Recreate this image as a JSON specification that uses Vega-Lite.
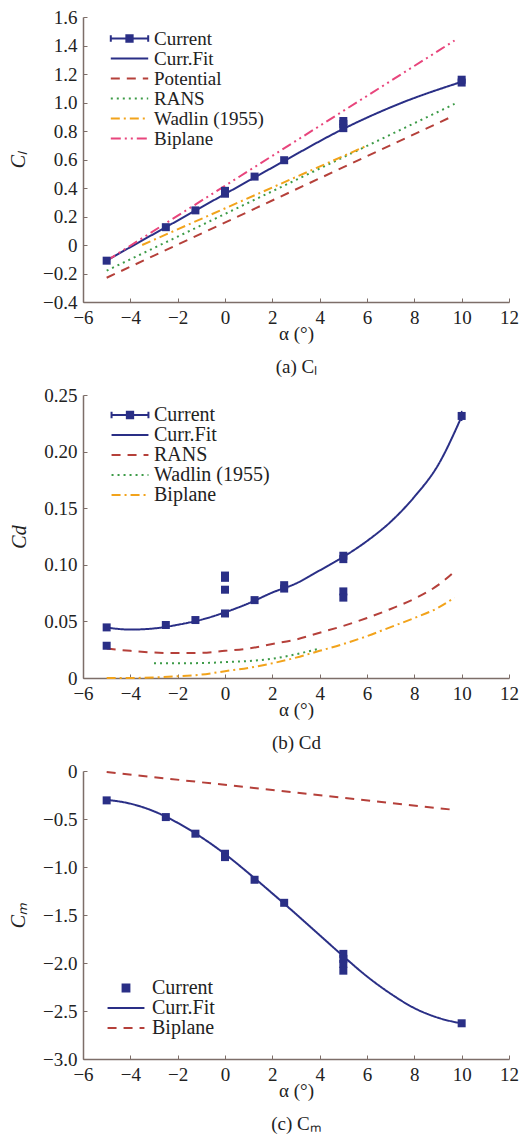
{
  "$schema": "https://vega.github.io/schema/vega-lite/v6.json",
  "background": "white",
  "padding": {"left": 8, "top": 8, "right": 8, "bottom": 2},
  "spacing": 10,
  "datasets": {
    "cl_lines": [
      {"series": "Curr.Fit", "alpha": -5, "value": -0.11},
      {"series": "Curr.Fit", "alpha": -4, "value": -0.015},
      {"series": "Curr.Fit", "alpha": -2.5, "value": 0.125},
      {"series": "Curr.Fit", "alpha": -1.25, "value": 0.242},
      {"series": "Curr.Fit", "alpha": 0, "value": 0.358},
      {"series": "Curr.Fit", "alpha": 1.25, "value": 0.474},
      {"series": "Curr.Fit", "alpha": 2.5, "value": 0.59},
      {"series": "Curr.Fit", "alpha": 5, "value": 0.815},
      {"series": "Curr.Fit", "alpha": 7.5, "value": 1.0},
      {"series": "Curr.Fit", "alpha": 10, "value": 1.145},
      {"series": "Potential", "alpha": -5, "value": -0.23},
      {"series": "Potential", "alpha": 9.7, "value": 0.91},
      {"series": "RANS", "alpha": -5, "value": -0.18},
      {"series": "RANS", "alpha": 9.7, "value": 0.99},
      {"series": "Wadlin (1955)", "alpha": -3.5, "value": 0.0},
      {"series": "Wadlin (1955)", "alpha": 5.9, "value": 0.69},
      {"series": "Biplane", "alpha": -5, "value": -0.11},
      {"series": "Biplane", "alpha": 9.7, "value": 1.435}
    ],
    "cl_pts": [
      {"alpha": -5, "value": -0.11},
      {"alpha": -2.5, "value": 0.125},
      {"alpha": -1.25, "value": 0.243},
      {"alpha": 0, "value": 0.36},
      {"alpha": 0, "value": 0.38},
      {"alpha": 1.25, "value": 0.48},
      {"alpha": 2.5, "value": 0.595},
      {"alpha": 5, "value": 0.82},
      {"alpha": 5, "value": 0.85},
      {"alpha": 5, "value": 0.87},
      {"alpha": 10, "value": 1.14},
      {"alpha": 10, "value": 1.16}
    ],
    "cd_lines": [
      {"series": "Curr.Fit", "alpha": -5, "value": 0.0445},
      {"series": "Curr.Fit", "alpha": -4, "value": 0.0428},
      {"series": "Curr.Fit", "alpha": -3, "value": 0.0438},
      {"series": "Curr.Fit", "alpha": -2, "value": 0.047},
      {"series": "Curr.Fit", "alpha": -1, "value": 0.0515},
      {"series": "Curr.Fit", "alpha": 0, "value": 0.058},
      {"series": "Curr.Fit", "alpha": 1, "value": 0.066},
      {"series": "Curr.Fit", "alpha": 2, "value": 0.0755},
      {"series": "Curr.Fit", "alpha": 3, "value": 0.0835},
      {"series": "Curr.Fit", "alpha": 4, "value": 0.095},
      {"series": "Curr.Fit", "alpha": 5, "value": 0.107},
      {"series": "Curr.Fit", "alpha": 6, "value": 0.121},
      {"series": "Curr.Fit", "alpha": 7, "value": 0.138},
      {"series": "Curr.Fit", "alpha": 8, "value": 0.16},
      {"series": "Curr.Fit", "alpha": 9, "value": 0.188},
      {"series": "Curr.Fit", "alpha": 10, "value": 0.231},
      {"series": "RANS", "alpha": -5, "value": 0.026},
      {"series": "RANS", "alpha": -4, "value": 0.024},
      {"series": "RANS", "alpha": -3, "value": 0.0225},
      {"series": "RANS", "alpha": -2, "value": 0.022},
      {"series": "RANS", "alpha": -1, "value": 0.0222},
      {"series": "RANS", "alpha": 0, "value": 0.024},
      {"series": "RANS", "alpha": 1, "value": 0.026},
      {"series": "RANS", "alpha": 2, "value": 0.03},
      {"series": "RANS", "alpha": 3, "value": 0.034},
      {"series": "RANS", "alpha": 4, "value": 0.04},
      {"series": "RANS", "alpha": 5, "value": 0.046},
      {"series": "RANS", "alpha": 6, "value": 0.053},
      {"series": "RANS", "alpha": 7, "value": 0.061},
      {"series": "RANS", "alpha": 8, "value": 0.07},
      {"series": "RANS", "alpha": 9, "value": 0.082},
      {"series": "RANS", "alpha": 9.8, "value": 0.096},
      {"series": "Wadlin (1955)", "alpha": -3, "value": 0.013},
      {"series": "Wadlin (1955)", "alpha": -2, "value": 0.013},
      {"series": "Wadlin (1955)", "alpha": -1, "value": 0.0132},
      {"series": "Wadlin (1955)", "alpha": 0, "value": 0.014},
      {"series": "Wadlin (1955)", "alpha": 1, "value": 0.015},
      {"series": "Wadlin (1955)", "alpha": 2, "value": 0.017},
      {"series": "Wadlin (1955)", "alpha": 3, "value": 0.021},
      {"series": "Wadlin (1955)", "alpha": 4, "value": 0.026},
      {"series": "Biplane", "alpha": -5, "value": 0.0},
      {"series": "Biplane", "alpha": -4, "value": 0.0},
      {"series": "Biplane", "alpha": -3, "value": 0.0005},
      {"series": "Biplane", "alpha": -2, "value": 0.0015},
      {"series": "Biplane", "alpha": -1, "value": 0.003},
      {"series": "Biplane", "alpha": 0, "value": 0.006},
      {"series": "Biplane", "alpha": 1, "value": 0.009},
      {"series": "Biplane", "alpha": 2, "value": 0.013},
      {"series": "Biplane", "alpha": 3, "value": 0.018},
      {"series": "Biplane", "alpha": 4, "value": 0.024},
      {"series": "Biplane", "alpha": 5, "value": 0.03},
      {"series": "Biplane", "alpha": 6, "value": 0.037},
      {"series": "Biplane", "alpha": 7, "value": 0.045},
      {"series": "Biplane", "alpha": 8, "value": 0.053},
      {"series": "Biplane", "alpha": 9, "value": 0.062},
      {"series": "Biplane", "alpha": 9.7, "value": 0.071}
    ],
    "cd_pts": [
      {"alpha": -5, "value": 0.0447},
      {"alpha": -5, "value": 0.0285},
      {"alpha": -2.5, "value": 0.0468},
      {"alpha": -1.25, "value": 0.0512},
      {"alpha": 0, "value": 0.057},
      {"alpha": 0, "value": 0.078},
      {"alpha": 0, "value": 0.0885},
      {"alpha": 0, "value": 0.0905},
      {"alpha": 1.25, "value": 0.0688},
      {"alpha": 2.5, "value": 0.079},
      {"alpha": 2.5, "value": 0.082},
      {"alpha": 5, "value": 0.105},
      {"alpha": 5, "value": 0.108},
      {"alpha": 5, "value": 0.0765},
      {"alpha": 5, "value": 0.071},
      {"alpha": 10, "value": 0.2315, "lo": 0.227, "hi": 0.236}
    ],
    "cm_lines": [
      {"series": "Curr.Fit", "alpha": -5, "value": -0.3},
      {"series": "Curr.Fit", "alpha": -4, "value": -0.34},
      {"series": "Curr.Fit", "alpha": -3, "value": -0.42},
      {"series": "Curr.Fit", "alpha": -2, "value": -0.54},
      {"series": "Curr.Fit", "alpha": -1, "value": -0.69},
      {"series": "Curr.Fit", "alpha": 0, "value": -0.865},
      {"series": "Curr.Fit", "alpha": 1, "value": -1.065},
      {"series": "Curr.Fit", "alpha": 2, "value": -1.275},
      {"series": "Curr.Fit", "alpha": 3, "value": -1.49},
      {"series": "Curr.Fit", "alpha": 4, "value": -1.71},
      {"series": "Curr.Fit", "alpha": 5, "value": -1.93},
      {"series": "Curr.Fit", "alpha": 6, "value": -2.14},
      {"series": "Curr.Fit", "alpha": 7, "value": -2.32},
      {"series": "Curr.Fit", "alpha": 8, "value": -2.47},
      {"series": "Curr.Fit", "alpha": 9, "value": -2.57},
      {"series": "Curr.Fit", "alpha": 10, "value": -2.63},
      {"series": "Biplane", "alpha": -5, "value": -0.01},
      {"series": "Biplane", "alpha": 9.5, "value": -0.4}
    ],
    "cm_pts": [
      {"alpha": -5, "value": -0.306},
      {"alpha": -2.5, "value": -0.48},
      {"alpha": -1.25, "value": -0.653},
      {"alpha": 0, "value": -0.862},
      {"alpha": 0, "value": -0.897},
      {"alpha": 1.25, "value": -1.133},
      {"alpha": 2.5, "value": -1.373},
      {"alpha": 5, "value": -1.905},
      {"alpha": 5, "value": -1.957},
      {"alpha": 5, "value": -2.01},
      {"alpha": 5, "value": -2.08},
      {"alpha": 10, "value": -2.628}
    ]
  },
  "resolve": {
    "scale": {"x": "independent", "y": "independent", "color": "independent", "strokeDash": "independent"},
    "legend": {"color": "independent", "strokeDash": "independent"}
  },
  "vconcat": [
    {
      "width": 426,
      "height": 285,
      "resolve": {"axis": {"y": "independent"}},
      "layer": [
        {
          "data": {"name": "cl_lines"},
          "mark": {"type": "line", "strokeWidth": 2, "interpolate": "monotone"},
          "encoding": {
            "x": {"field": "alpha", "type": "quantitative", "scale": {"domain": [-6, 12], "nice": false},
                  "axis": {"values": [-6, -4, -2, 0, 2, 4, 6, 8, 10, 12], "title": ["α (°)", "(a) Cₗ"],
                           "labelFont": "Liberation Serif", "labelFontSize": 19, "labelOverlap": false, "labelFlush": false,
                           "labelPadding": 10, "titlePadding": -3, "titleLineHeight": 33,
                           "titleFont": "Liberation Serif", "titleFontSize": 19}},
            "y": {"field": "value", "type": "quantitative", "scale": {"domain": [-0.4, 1.6], "nice": false},
                  "axis": {"orient": "left", "values": [-0.4, 0, 0.4, 0.8, 1.2, 1.6], "title": "Cₗ",
                           "labelExpr": "datum.value == 0 ? '0' : format(datum.value, '.1f')",
                           "labelFont": "Liberation Serif", "labelFontSize": 19, "labelOverlap": false, "labelFlush": false,
                           "labelPadding": 10, "titlePadding": 14,
                           "titleFont": "Liberation Serif", "titleFontSize": 20, "titleFontStyle": "italic"}},
            "color": {"field": "series", "type": "nominal",
                      "scale": {"domain": ["Current", "Curr.Fit", "Potential", "RANS", "Wadlin (1955)", "Biplane"],
                                "range": ["#2a2f86", "#2a2f86", "#b5403a", "#3d9b48", "#f2a31b", "#e8457c"]},
                      "legend": {"orient": "none", "legendX": 37, "legendY": 12, "symbolSize": 289,
                                 "labelFont": "Liberation Serif", "labelFontSize": 19, "labelOffset": 15,
                                 "encode": {"symbols": {"update": {
                                   "shape": {"signal": "datum.value === 'Current' ? 'M-2.2,0H2.2M-2.2,-0.37V0.37M2.2,-0.37V0.37M-0.37,-0.37H0.37V0.37H-0.37Z' : 'M-2.2,0H2.2'"},
                                   "fill": {"signal": "datum.value === 'Current' ? '#2a2f86' : 'transparent'"}}}}}},
            "strokeDash": {"field": "series", "type": "nominal",
                           "scale": {"domain": ["Current", "Curr.Fit", "Potential", "RANS", "Wadlin (1955)", "Biplane"],
                                     "range": [[1, 0], [1, 0], [9, 7], [2, 4], [9, 4, 2, 4], [10, 4, 2, 4, 2, 4]]},
                           "legend": {"orient": "none", "legendX": 37, "legendY": 12, "symbolSize": 289,
                                      "labelFont": "Liberation Serif", "labelFontSize": 19, "labelOffset": 15}}
          }
        },
        {
          "data": {"name": "cl_pts"},
          "mark": {"type": "square", "size": 64, "opacity": 1, "color": "#2a2f86"},
          "encoding": {
            "x": {"field": "alpha", "type": "quantitative"},
            "y": {"field": "value", "type": "quantitative",
                  "axis": {"orient": "left", "values": [-0.2, 0.2, 0.6, 1.0, 1.4], "title": null, "domain": false,
                           "labelExpr": "format(datum.value, '.1f')",
                           "labelFont": "Liberation Serif", "labelFontSize": 19, "labelOverlap": false, "labelFlush": false,
                           "labelPadding": 10}}
          }
        }
      ]
    },
    {
      "width": 426,
      "height": 283,
      "layer": [
        {
          "data": {"name": "cd_lines"},
          "mark": {"type": "line", "strokeWidth": 2, "interpolate": "monotone"},
          "encoding": {
            "x": {"field": "alpha", "type": "quantitative", "scale": {"domain": [-6, 12], "nice": false},
                  "axis": {"values": [-6, -4, -2, 0, 2, 4, 6, 8, 10, 12], "title": ["α (°)", "(b) Cd"],
                           "labelFont": "Liberation Serif", "labelFontSize": 19, "labelOverlap": false, "labelFlush": false,
                           "labelPadding": 10, "titlePadding": -3, "titleLineHeight": 33,
                           "titleFont": "Liberation Serif", "titleFontSize": 19}},
            "y": {"field": "value", "type": "quantitative", "scale": {"domain": [0, 0.25], "nice": false},
                  "axis": {"values": [0, 0.05, 0.1, 0.15, 0.2, 0.25], "title": "Cd",
                           "labelExpr": "datum.value == 0 ? '0' : format(datum.value, '.2f')",
                           "labelFont": "Liberation Serif", "labelFontSize": 19, "labelOverlap": false, "labelFlush": false,
                           "labelPadding": 10, "titlePadding": 14,
                           "titleFont": "Liberation Serif", "titleFontSize": 20, "titleFontStyle": "italic"}},
            "color": {"field": "series", "type": "nominal",
                      "scale": {"domain": ["Current", "Curr.Fit", "RANS", "Wadlin (1955)", "Biplane"],
                                "range": ["#2a2f86", "#2a2f86", "#b5403a", "#3d9b48", "#f2a31b"]},
                      "legend": {"orient": "none", "legendX": 37, "legendY": 10, "symbolSize": 324,
                                 "labelFont": "Liberation Serif", "labelFontSize": 20, "labelOffset": 14,
                                 "encode": {"symbols": {"update": {
                                   "shape": {"signal": "datum.value === 'Current' ? 'M-2.05,0H2.05M-2.05,-0.35V0.35M2.05,-0.35V0.35M-0.35,-0.35H0.35V0.35H-0.35Z' : 'M-2.05,0H2.05'"},
                                   "fill": {"signal": "datum.value === 'Current' ? '#2a2f86' : 'transparent'"}}}}}},
            "strokeDash": {"field": "series", "type": "nominal",
                           "scale": {"domain": ["Current", "Curr.Fit", "RANS", "Wadlin (1955)", "Biplane"],
                                     "range": [[1, 0], [1, 0], [9, 7], [2, 4], [9, 4, 2, 4]]},
                           "legend": {"orient": "none", "legendX": 37, "legendY": 10, "symbolSize": 324,
                                      "labelFont": "Liberation Serif", "labelFontSize": 20, "labelOffset": 14}}
          }
        },
        {
          "data": {"name": "cd_pts"},
          "transform": [{"filter": "isValid(datum.lo)"}],
          "mark": {"type": "rule", "strokeWidth": 1.5, "color": "#2a2f86"},
          "encoding": {
            "x": {"field": "alpha", "type": "quantitative"},
            "y": {"field": "lo", "type": "quantitative"},
            "y2": {"field": "hi"}
          }
        },
        {
          "data": {"name": "cd_pts"},
          "mark": {"type": "square", "size": 64, "opacity": 1, "color": "#2a2f86"},
          "encoding": {
            "x": {"field": "alpha", "type": "quantitative"},
            "y": {"field": "value", "type": "quantitative"}
          }
        }
      ]
    },
    {
      "width": 426,
      "height": 288,
      "layer": [
        {
          "data": {"name": "cm_lines"},
          "mark": {"type": "line", "strokeWidth": 2, "interpolate": "monotone"},
          "encoding": {
            "x": {"field": "alpha", "type": "quantitative", "scale": {"domain": [-6, 12], "nice": false},
                  "axis": {"values": [-6, -4, -2, 0, 2, 4, 6, 8, 10, 12], "title": ["α (°)", "(c) Cₘ"],
                           "labelFont": "Liberation Serif", "labelFontSize": 19, "labelOverlap": false, "labelFlush": false,
                           "labelPadding": 10, "titlePadding": -3, "titleLineHeight": 33,
                           "titleFont": "Liberation Serif", "titleFontSize": 19}},
            "y": {"field": "value", "type": "quantitative", "scale": {"domain": [-3, 0], "nice": false},
                  "axis": {"values": [-3, -2.5, -2, -1.5, -1, -0.5, 0], "title": "Cₘ",
                           "labelExpr": "datum.value == 0 ? '0' : format(datum.value, '.1f')",
                           "labelFont": "Liberation Serif", "labelFontSize": 19, "labelOverlap": false, "labelFlush": false,
                           "labelPadding": 10, "titlePadding": 14,
                           "titleFont": "Liberation Serif", "titleFontSize": 20, "titleFontStyle": "italic"}},
            "color": {"field": "series", "type": "nominal",
                      "scale": {"domain": ["Current", "Curr.Fit", "Biplane"],
                                "range": ["#2a2f86", "#2a2f86", "#b5403a"]},
                      "legend": {"orient": "none", "legendX": 33, "legendY": 207, "symbolSize": 324,
                                 "labelFont": "Liberation Serif", "labelFontSize": 20, "labelOffset": 16,
                                 "encode": {"symbols": {"update": {
                                   "shape": {"signal": "datum.value === 'Current' ? 'M-0.38,-0.38H0.38V0.38H-0.38Z' : 'M-2.05,0H2.05'"},
                                   "fill": {"signal": "datum.value === 'Current' ? '#2a2f86' : 'transparent'"}}}}}},
            "strokeDash": {"field": "series", "type": "nominal",
                           "scale": {"domain": ["Current", "Curr.Fit", "Biplane"],
                                     "range": [[1, 0], [1, 0], [9, 7]]},
                           "legend": {"orient": "none", "legendX": 33, "legendY": 207, "symbolSize": 324,
                                      "labelFont": "Liberation Serif", "labelFontSize": 20, "labelOffset": 16}}
          }
        },
        {
          "data": {"name": "cm_pts"},
          "mark": {"type": "square", "size": 64, "opacity": 1, "color": "#2a2f86"},
          "encoding": {
            "x": {"field": "alpha", "type": "quantitative"},
            "y": {"field": "value", "type": "quantitative"}
          }
        }
      ]
    }
  ],
  "config": {
    "view": {"stroke": null},
    "font": "Liberation Serif",
    "axis": {
      "grid": false,
      "domainColor": "#7d6e69",
      "domainWidth": 1.5,
      "tickColor": "#7d6e69",
      "tickSize": -4,
      "tickWidth": 1,
      "labelColor": "#222222",
      "titleFontWeight": "normal",
      "titleColor": "#222222"
    },
    "legend": {
      "title": null,
      "padding": 0,
      "rowPadding": 0,
      "symbolType": "stroke",
      "symbolStrokeWidth": 2,
      "labelColor": "#222222"
    }
  }
}
